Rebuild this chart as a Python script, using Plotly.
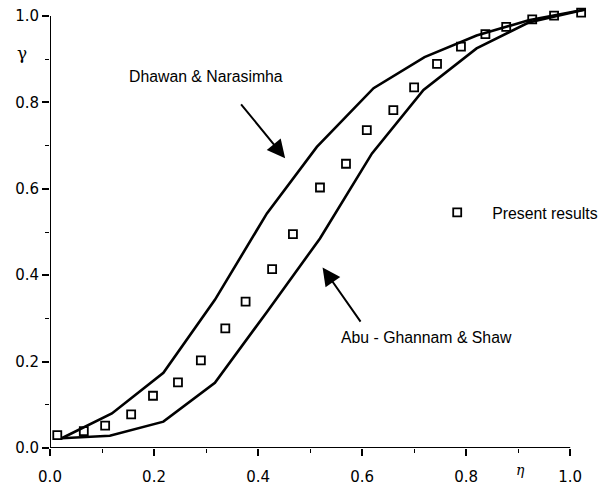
import plotly.graph_objects as go

# Present results (squares)
eta_present = [0.014, 0.065, 0.106, 0.156, 0.198, 0.246, 0.290, 0.337, 0.376, 0.427,
               0.467, 0.519, 0.569, 0.609, 0.660, 0.700, 0.744, 0.790, 0.837, 0.877,
               0.927, 0.969, 1.021]
gamma_present = [0.030, 0.039, 0.052, 0.078, 0.121, 0.152, 0.203, 0.277, 0.339, 0.414,
                 0.495, 0.603, 0.658, 0.736, 0.782, 0.835, 0.889, 0.929, 0.958, 0.975,
                 0.992, 1.001, 1.008]

# Dhawan & Narasimha (upper curve)
eta_dn = [0.0225, 0.119, 0.218, 0.317, 0.417, 0.513, 0.622, 0.72, 0.82, 0.92, 1.029]
gamma_dn = [0.0225, 0.080, 0.174, 0.343, 0.543, 0.697, 0.833, 0.905, 0.955, 0.99, 1.015]

# Abu-Ghannam & Shaw (lower curve)
eta_ags = [0.0225, 0.115, 0.218, 0.317, 0.417, 0.519, 0.619, 0.718, 0.82, 0.92, 1.029]
gamma_ags = [0.0225, 0.0285, 0.061, 0.151, 0.315, 0.485, 0.682, 0.829, 0.925, 0.985, 1.015]

tick_vals = [0.0, 0.2, 0.4, 0.6, 0.8, 1.0]
tick_text = ["0.0", "0.2", "0.4", "0.6", "0.8", "1.0"]

FONT = "Liberation Sans, Arial, sans-serif"
TICKFONT = "DejaVu Sans, sans-serif"

fig = go.Figure()
fig.add_trace(go.Scatter(x=eta_dn, y=gamma_dn, mode="lines",
                         line=dict(color="black", width=2.6), showlegend=False,
                         cliponaxis=False))
fig.add_trace(go.Scatter(x=eta_ags, y=gamma_ags, mode="lines",
                         line=dict(color="black", width=2.6), showlegend=False,
                         cliponaxis=False))
fig.add_trace(go.Scatter(x=eta_present, y=gamma_present, mode="markers",
                         name="Present results",
                         marker=dict(symbol="square-open", size=8, color="black",
                                     line=dict(width=1.8, color="black")),
                         cliponaxis=False))

axis_common = dict(showgrid=False, zeroline=False, showline=False,
                   ticks="outside", ticklen=7, tickwidth=1.5, tickcolor="black",
                   tickvals=tick_vals, ticktext=tick_text,
                   tickfont=dict(family=TICKFONT, size=15, color="black"),
                   minor=dict(ticks="outside", ticklen=4, tickwidth=1.2,
                              tickcolor="black", dtick=0.1, tick0=0, showgrid=False))

fig.update_xaxes(range=[0, 1.04], ticklabelstandoff=8, **axis_common)
fig.update_yaxes(range=[0, 1.0301], **axis_common)

# axis lines ending at 1.0
fig.add_shape(type="line", x0=0, y0=0, x1=1.0, y1=0, xref="x", yref="y",
              line=dict(color="black", width=2))
fig.add_shape(type="line", x0=0, y0=0, x1=0, y1=1.0, xref="x", yref="y",
              line=dict(color="black", width=2))

annots = [
    dict(x=0.30, y=0.859, text="Dhawan &amp; Narasimha", showarrow=False,
         font=dict(family=FONT, size=15.8, color="black")),
    dict(x=0.723, y=0.255, text="Abu - Ghannam &amp; Shaw", showarrow=False,
         font=dict(family=FONT, size=15.8, color="black")),
    dict(x=0.452, y=0.671, ax=0.365, ay=0.799, axref="x", ayref="y", text="",
         showarrow=True, arrowhead=2, arrowsize=1.8, arrowwidth=2, arrowcolor="black"),
    dict(x=0.524, y=0.418, ax=0.599, ay=0.289, axref="x", ayref="y", text="",
         showarrow=True, arrowhead=2, arrowsize=1.8, arrowwidth=2, arrowcolor="black"),
]
for a in annots:
    a.setdefault("xref", "x")
    a.setdefault("yref", "y")
    fig.add_annotation(**a)

# axis symbols
fig.add_annotation(x=-0.065, y=0.915, xref="paper", yref="paper", text="γ",
                   showarrow=False, font=dict(family="DejaVu Serif, serif", size=17, color="black"))
fig.add_annotation(x=0.882, y=-0.072, xref="paper", yref="paper", text="<i>η</i>",
                   showarrow=False, font=dict(family="DejaVu Serif, serif", size=14, color="black"))

fig.update_layout(
    width=612, height=488,
    margin=dict(l=50, r=21, t=3, b=40, autoexpand=False),
    plot_bgcolor="white", paper_bgcolor="white",
    font=dict(family=FONT, size=14, color="black"),
    showlegend=True,
    legend=dict(x=0.688, y=0.529, xanchor="left", yanchor="middle",
                bgcolor="rgba(0,0,0,0)", borderwidth=0, itemwidth=60,
                font=dict(family=FONT, size=15.8, color="black")),
)

fig.write_html("out.html")
